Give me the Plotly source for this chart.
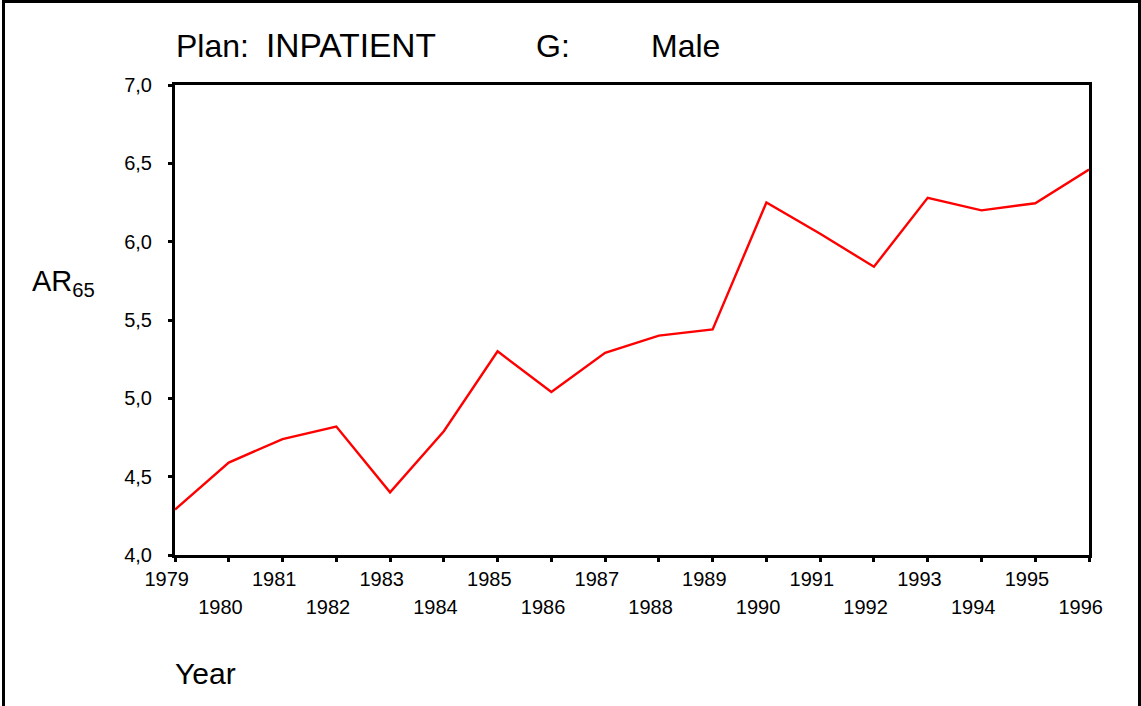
import plotly.graph_objects as go

years = list(range(1979, 1997))
ar65 = [4.29, 4.59, 4.74, 4.82, 4.40, 4.79, 5.30, 5.04, 5.29, 5.40, 5.44,
        6.25, 6.05, 5.84, 6.28, 6.20, 6.245, 6.46]
odd_years = [y for y in years if y % 2 == 1]
even_years = [y for y in years if y % 2 == 0]
y_ticks = [4.0, 4.5, 5.0, 5.5, 6.0, 6.5, 7.0]
y_tick_text = ["4,0", "4,5", "5,0", "5,5", "6,0", "6,5", "7,0"]

W, H = 1141, 706
L, R, T, B = 175, 52, 85, 151
pw, ph = W - L - R, H - T - B

def px(x):
    return (x - L) / pw

def py(y):
    return (H - B - y) / ph

FONT = "Liberation Sans, Arial, sans-serif"
PAD = "\u00a0\u00a0\u00a0"  # labels sit slightly left of their ticks in the reference

fig = go.Figure()
fig.add_trace(go.Scatter(x=years, y=ar65, mode="lines",
                         line=dict(color="#ff0000", width=2.4),
                         showlegend=False, hoverinfo="x+y"))
# same series on the overlaid axis that carries the even-year labels (invisible)
fig.add_trace(go.Scatter(x=years, y=ar65, mode="lines", xaxis="x2",
                         line=dict(color="rgba(0,0,0,0)", width=0),
                         showlegend=False, hoverinfo="skip"))

fig.update_layout(
    width=W, height=H,
    margin=dict(l=L, r=R, t=T, b=B, pad=0),
    paper_bgcolor="white", plot_bgcolor="white",
    font=dict(family=FONT, color="black", size=20),
    xaxis=dict(range=[1979, 1996], tickmode="array", tickvals=years,
               ticktext=[str(y) + PAD if y % 2 == 1 else "" for y in years],
               showline=True, linecolor="black", linewidth=3, mirror=True,
               ticks="outside", ticklen=4, tickwidth=3, tickcolor="black",
               showgrid=False, zeroline=False,
               tickfont=dict(size=20), ticklabelstandoff=0),
    xaxis2=dict(range=[1979, 1996], overlaying="x", anchor="y", side="bottom",
                tickmode="array", tickvals=even_years,
                ticktext=[str(y) + PAD for y in even_years],
                showline=False, ticks="", showgrid=False, zeroline=False,
                tickfont=dict(size=20), ticklabelstandoff=38),
    yaxis=dict(range=[4, 7], tickmode="array", tickvals=y_ticks,
               ticktext=y_tick_text,
               showline=True, linecolor="black", linewidth=3, mirror=True,
               ticks="outside", ticklen=4, tickwidth=3, tickcolor="black",
               showgrid=False, zeroline=False,
               tickfont=dict(size=20), ticklabelstandoff=12),
)

def ann(text, x, y, size=28, xanchor="left"):
    fig.add_annotation(text=text, x=px(x), y=py(y), xref="paper", yref="paper",
                       xanchor=xanchor, yanchor="middle", showarrow=False,
                       font=dict(family=FONT, size=size, color="black"))

ann("Plan:", 174, 46, 32)
ann("INPATIENT", 264, 46, 33.5)
ann("G:", 534, 46, 32)
ann("Male", 649, 46, 32)
ann("AR<sub>65</sub>", 30, 283, 29)
ann("Year", 173, 673, 30)

fig.add_shape(type="rect", xref="paper", yref="paper",
              x0=px(3.5), x1=px(1139.5), y0=py(720), y1=py(1.5),
              line=dict(color="black", width=3), fillcolor="rgba(0,0,0,0)",
              layer="below")

fig.write_html("out.html", config={"displayModeBar": False},
               post_script="document.body.style.margin='0';document.body.style.padding='0';")
